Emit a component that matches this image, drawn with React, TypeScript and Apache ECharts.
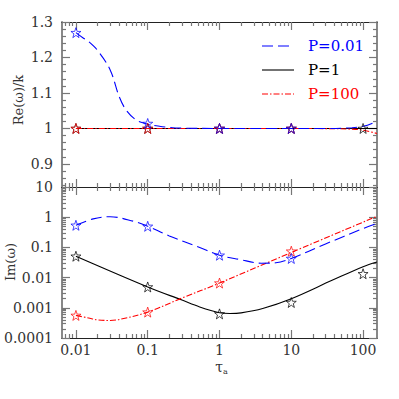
import React, { useEffect, useRef } from "react";
import * as echarts from "echarts";

// ---- data (tau, value) ----
const reBlueTau = [0.01, 0.0126, 0.015, 0.02, 0.03, 0.04, 0.05, 0.07, 0.1, 0.16, 0.3, 1, 10, 30, 70, 100, 130, 156];
const reBlueVal = [1.27, 1.255, 1.245, 1.22, 1.165, 1.09, 1.052, 1.023, 1.012, 1.005, 1.001, 1.0, 1.0, 1.0, 1.002, 1.006, 1.013, 1.023];
const reBlackTau = [0.01, 0.1, 1, 10, 100, 156];
const reBlackVal = [1.0, 1.0, 1.0, 1.0, 1.0, 1.0];
const reRedTau = [0.01, 0.1, 1, 10, 30, 70, 100, 156];
const reRedVal = [1.0, 1.0, 1.0, 1.0, 0.9995, 0.998, 0.995, 0.986];

const reBlueStarTau = [0.01, 0.1, 1, 10];
const reBlueStarVal = [1.27, 1.014, 1.0, 1.0];
const reBlackStarTau = [0.01, 0.1, 1, 10, 100];
const reBlackStarVal = [1.0, 1.0, 1.0, 1.0, 1.0];
const reRedStarTau = [0.01, 0.1, 1, 10];
const reRedStarVal = [1.0, 1.0, 1.0, 1.0];

const imBlueTau = [0.01, 0.0174, 0.03, 0.0625, 0.1, 0.2, 0.53, 1, 1.9, 3.8, 6.1, 10, 30, 100, 156];
const imBlueVal = [0.54, 0.88, 1.04, 0.74, 0.5, 0.24, 0.1, 0.055, 0.04, 0.03, 0.031, 0.043, 0.13, 0.42, 0.62];
const imBlackTau = [0.01, 0.1, 0.3, 0.53, 1, 1.4, 2, 4, 10, 37, 100, 156];
const imBlackVal = [0.051, 0.0049, 0.0018, 0.00107, 0.00069, 0.00065, 0.00068, 0.00095, 0.002, 0.0081, 0.023, 0.033];
const imRedTau = [0.01, 0.015, 0.02, 0.03, 0.05, 0.1, 0.3, 1, 10, 156];
const imRedVal = [0.00056, 0.00046, 0.0004, 0.00038, 0.00046, 0.00072, 0.0021, 0.0066, 0.068, 1.07];

const imBlueStarTau = [0.01, 0.1, 1, 10];
const imBlueStarVal = [0.54, 0.5, 0.055, 0.043];
const imBlackStarTau = [0.01, 0.1, 1, 10, 100];
const imBlackStarVal = [0.051, 0.0049, 0.00063, 0.0015, 0.0134];
const imRedStarTau = [0.01, 0.1, 1, 10];
const imRedStarVal = [0.00056, 0.00072, 0.0066, 0.075];

// ---- tick labels ----
const xTickTaus = [0.01, 0.1, 1, 10, 100];
const xTickLabels = ["0.01", "0.1", "1", "10", "100"];
const reTickVals = [0.9, 1.0, 1.1, 1.2, 1.3];
const reTickLabels = ["0.9", "1", "1.1", "1.2", "1.3"];
const imTickVals = [0.0001, 0.001, 0.01, 0.1, 1, 10];
const imTickLabels = ["0.0001", "0.001", "0.01", "0.1", "1", "10"];
const legendNames = ["P=0.01", "P=1", "P=100"];

const BLUE = "#0000ff";
const RED = "#ff0000";
const BLACK = "#000000";
const FONT = "DejaVu Serif";

const X_MIN = -2.194;
const X_MAX = 2.194;
const RE_MIN = 0.835;
const RE_MAX = 1.3;
const IM_MIN = -4;
const IM_MAX = 1;

const STAR =
  "path://M0,-10 L2.35,-3.24 L9.51,-3.09 L3.8,1.24 L5.88,8.09 L0,4 L-5.88,8.09 L-3.8,1.24 L-9.51,-3.09 L-2.35,-3.24 Z";

function logMinor(min: number, max: number) {
  const out: number[] = [];
  for (let d = -5; d <= 3; d++) {
    for (let k = 2; k <= 9; k++) {
      const v = Math.log10(k) + d;
      if (v > min && v < max) out.push(v);
    }
  }
  return out;
}
function linMinor(min: number, max: number, step: number, majors: number[]) {
  const out: number[] = [];
  for (let i = Math.ceil(min / step); i * step <= max + 1e-9; i++) {
    const v = +(i * step).toFixed(4);
    if (!majors.some((m) => Math.abs(m - v) < 1e-6)) out.push(v);
  }
  return out;
}

function pickLabel(v: number, vals: number[], labels: string[]) {
  let best = 0;
  for (let i = 1; i < vals.length; i++) if (Math.abs(vals[i] - v) < Math.abs(vals[best] - v)) best = i;
  return labels[best];
}

export default function App() {
  const ref = useRef<HTMLDivElement>(null);
  useEffect(() => {
    if (!ref.current) return;
    const chart = echarts.init(ref.current, null, { renderer: "svg" });

    const xMajor = xTickTaus.map((t) => Math.log10(t));
    const xMinor = logMinor(X_MIN, X_MAX);
    const imMajor = imTickVals.map((t) => Math.log10(t));
    const imMinor = logMinor(IM_MIN, IM_MAX);
    const reMinor = linMinor(RE_MIN, RE_MAX, 0.02, reTickVals);

    const tickColor = "#777";
    const mkX = (grid: number, pos: string, ticks: number[], len: number, line: boolean, labels: boolean) => ({
      type: "value",
      gridIndex: grid,
      position: pos,
      min: X_MIN,
      max: X_MAX,
      splitLine: { show: false },
      axisLine: { show: line, onZero: false, lineStyle: { color: "#222", width: 1.2 } },
      axisTick: { show: true, inside: true, length: len, customValues: ticks, lineStyle: { color: tickColor, width: 1.2 } },
      axisLabel: labels
        ? {
            show: true,
            customValues: xMajor,
            margin: 5,
            fontFamily: FONT,
            fontSize: 14,
            lineHeight: 14,
            color: "#333",
            formatter: (v: number) => pickLabel(v, xMajor, xTickLabels),
          }
        : { show: false },
    });
    const mkY = (
      grid: number,
      pos: string,
      min: number,
      max: number,
      ticks: number[],
      len: number,
      line: boolean,
      labels: null | { vals: number[]; texts: string[] }
    ) => ({
      type: "value",
      gridIndex: grid,
      position: pos,
      min,
      max,
      splitLine: { show: false },
      axisLine: { show: line, onZero: false, lineStyle: { color: "#888", width: 2 } },
      axisTick: { show: true, inside: true, length: len, customValues: ticks, lineStyle: { color: tickColor, width: 1.2 } },
      axisLabel: labels
        ? {
            show: true,
            customValues: labels.vals,
            margin: 9,
            fontFamily: FONT,
            fontSize: 14,
            color: "#333",
            formatter: (v: number) => pickLabel(v, labels.vals, labels.texts),
          }
        : { show: false },
    });

    const xAxis = [
      mkX(0, "bottom", xMajor, 8, true, false),
      mkX(0, "bottom", xMinor, 4, false, false),
      mkX(0, "top", xMajor, 8, true, false),
      mkX(0, "top", xMinor, 4, false, false),
      mkX(1, "bottom", xMajor, 8, true, true),
      mkX(1, "bottom", xMinor, 4, false, false),
      mkX(1, "top", xMajor, 8, true, false),
      mkX(1, "top", xMinor, 4, false, false),
    ];
    const yAxis = [
      mkY(0, "left", RE_MIN, RE_MAX, reTickVals, 8, true, { vals: reTickVals, texts: reTickLabels }),
      mkY(0, "left", RE_MIN, RE_MAX, reMinor, 4, false, null),
      mkY(0, "right", RE_MIN, RE_MAX, reTickVals, 8, true, null),
      mkY(0, "right", RE_MIN, RE_MAX, reMinor, 4, false, null),
      mkY(1, "left", IM_MIN, IM_MAX, imMajor, 8, true, { vals: imMajor, texts: imTickLabels }),
      mkY(1, "left", IM_MIN, IM_MAX, imMinor, 4, false, null),
      mkY(1, "right", IM_MIN, IM_MAX, imMajor, 8, true, null),
      mkY(1, "right", IM_MIN, IM_MAX, imMinor, 4, false, null),
    ];

    const lineSeries = (
      name: string,
      taus: number[],
      vals: number[],
      log: boolean,
      color: string,
      dash: any,
      panel: number
    ) => ({
      name,
      type: "line",
      xAxisIndex: panel * 4,
      yAxisIndex: panel * 4,
      data: taus.map((t, i) => [Math.log10(t), log ? Math.log10(vals[i]) : vals[i]]),
      smooth: 0.35,
      showSymbol: false,
      symbol: "none",
      lineStyle: { color, width: 1.1, type: dash },
      z: 3,
    });
    const starSeries = (name: string, taus: number[], vals: number[], log: boolean, color: string, panel: number) => ({
      name,
      type: "scatter",
      xAxisIndex: panel * 4,
      yAxisIndex: panel * 4,
      data: taus.map((t, i) => [Math.log10(t), log ? Math.log10(vals[i]) : vals[i]]),
      symbol: STAR,
      symbolSize: 10,
      itemStyle: { color: "rgba(0,0,0,0)", borderColor: color, borderWidth: 0.9 },
      z: 4,
    });

    const BLUE_DASH = [11, 5];
    const RED_DASH = [6, 2, 1.5, 2];

    const series = [
      lineSeries("P=1", reBlackTau, reBlackVal, false, BLACK, "solid", 0),
      lineSeries("P=100", reRedTau, reRedVal, false, RED, RED_DASH, 0),
      lineSeries("P=0.01", reBlueTau, reBlueVal, false, BLUE, BLUE_DASH, 0),
      starSeries("s1", reBlackStarTau, reBlackStarVal, false, BLACK, 0),
      starSeries("s100", reRedStarTau, reRedStarVal, false, RED, 0),
      starSeries("s001", reBlueStarTau, reBlueStarVal, false, BLUE, 0),
      lineSeries("P=1", imBlackTau, imBlackVal, true, BLACK, "solid", 1),
      lineSeries("P=100", imRedTau, imRedVal, true, RED, RED_DASH, 1),
      lineSeries("P=0.01", imBlueTau, imBlueVal, true, BLUE, BLUE_DASH, 1),
      starSeries("s1", imBlackStarTau, imBlackStarVal, true, BLACK, 1),
      starSeries("s100", imRedStarTau, imRedStarVal, true, RED, 1),
      starSeries("s001", imBlueStarTau, imBlueStarVal, true, BLUE, 1),
    ];

    const legendColors = [BLUE, BLACK, RED];
    const legendDash: any[] = [BLUE_DASH, null, RED_DASH];
    const legendY = [46, 70, 94];
    const graphic: any[] = [];
    legendNames.forEach((n, i) => {
      graphic.push({
        type: "line",
        shape: { x1: 262, y1: legendY[i], x2: 294, y2: legendY[i] },
        style: { stroke: legendColors[i], lineWidth: 1.1, lineDash: legendDash[i] },
      });
      graphic.push({
        type: "text",
        x: 308,
        y: legendY[i],
        style: { text: n, fill: legendColors[i], font: `15px '${FONT}'`, verticalAlign: "middle", align: "left" },
      });
    });
    graphic.push({
      type: "text",
      x: 18,
      y: 100,
      rotation: Math.PI / 2,
      style: { text: "Re(ω)/k", fill: "#333", font: `13px '${FONT}'`, align: "center", verticalAlign: "middle" },
    });
    graphic.push({
      type: "text",
      x: 10,
      y: 262,
      rotation: Math.PI / 2,
      style: { text: "Im(ω)", fill: "#333", font: `13px '${FONT}'`, align: "center", verticalAlign: "middle" },
    });
    graphic.push({
      type: "text",
      x: 219,
      y: 367,
      style: { text: "τ", fill: "#333", font: `14px '${FONT}'`, align: "center", verticalAlign: "middle" },
    });
    graphic.push({
      type: "text",
      x: 223,
      y: 371,
      style: { text: "a", fill: "#333", font: `8px '${FONT}'`, align: "left", verticalAlign: "middle" },
    });

    chart.setOption({
      animation: false,
      backgroundColor: "#fff",
      grid: [
        { left: 62, top: 22, width: 315, height: 165, containLabel: false },
        { left: 62, top: 187, width: 315, height: 151, containLabel: false },
      ],
      xAxis,
      yAxis,
      series,
      graphic,
    });
    return () => chart.dispose();
  }, []);
  return <div ref={ref} style={{ position: "fixed", left: 0, top: 0, width: 399, height: 399 }} />;
}
